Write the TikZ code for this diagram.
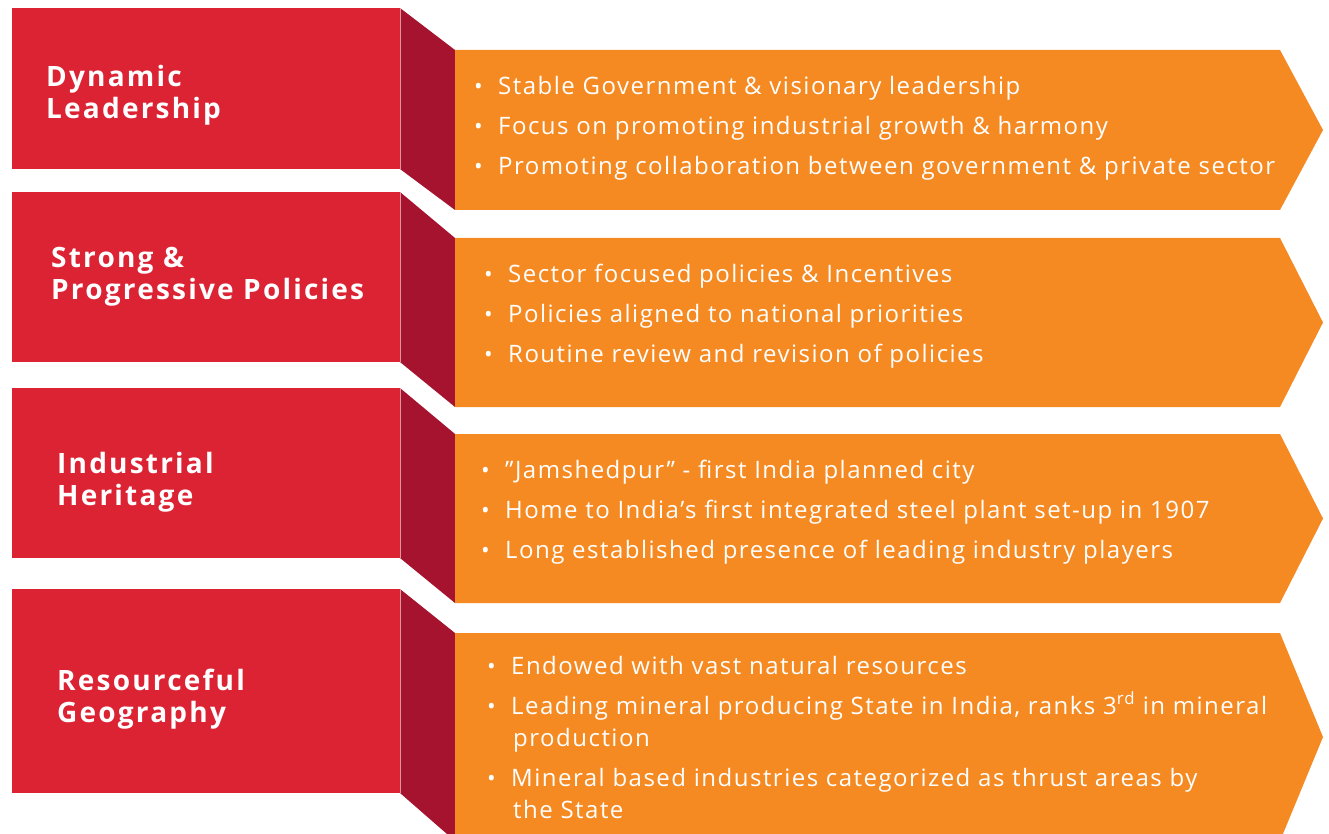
\documentclass[tikz,border=0pt]{standalone}
\usepackage{fontspec}
\setmainfont{Open Sans}
\newfontfamily\titlefont[LetterSpace=7.9]{Open Sans}
\newfontfamily\bodyfont[LetterSpace=6.2]{Open Sans}
\definecolor{redbox}{RGB}{220,35,52}
\definecolor{foldred}{RGB}{166,19,46}
\definecolor{orangebox}{RGB}{245,138,34}
\definecolor{seam}{RGB}{226,150,160}
\tikzset{
  titletext/.style={anchor=base west,inner sep=0pt,text=white,font=\titlefont\fontsize{28}{31}\selectfont\bfseries},
  bullettext/.style={anchor=base west,inner sep=0pt,text=white,font=\bodyfont\fontsize{24}{32}\selectfont},
  dot/.style={anchor=base west,inner sep=0pt,text=white,font=\fontsize{23}{32}\selectfont},
}
\newcommand{\rowshapes}[6]{% #1 redtop #2 redbottom #3 orangetop #4 orangebottom #5 tip #6 name
  \fill[redbox] (12,#1) rectangle (400,#2);
  \fill[foldred] (400,#1) -- (455,#3) -- (455,#4) -- (400,#2) -- cycle;
  \draw[seam,line width=0.8pt] (400,#1) -- (400,#2);
  \fill[orangebox] (455,#3) -- (1280,#3) -- (1323,#5) -- (1280,#4) -- (455,#4) -- cycle;
  \coordinate (#6) at (455,#3);
}
\begin{document}
\begin{tikzpicture}[x=1pt,y=-1pt]
\useasboundingbox (0,0) rectangle (1329,834);
\clip (0,0) rectangle (1329,834);
\rowshapes{8}{169}{50}{210}{130}{r1}
\rowshapes{192}{362}{238}{407}{322.5}{r2}
\rowshapes{388}{558}{434}{603}{518.5}{r3}
\rowshapes{589}{793}{633}{841}{737}{r4}

% titles
\node[titletext] (t1a) at (46,87) {Dynamic};
\node[titletext] (t1b) at (46,119) {Leadership};
\node[titletext] (t2a) at (51,267) {Strong \&};
\node[titletext] (t2b) at (51,299) {Progressive Policies};
\node[titletext] (t3a) at (57,473) {Industrial};
\node[titletext] (t3b) at (57,505) {Heritage};
\node[titletext] (t4a) at (57,690) {Resourceful};
\node[titletext] (t4b) at (57,722) {Geography};

% row 1 bullets
\node[dot] (d11) at (474,95) {•};
\node[bullettext] (b11) at (498,95) {Stable Government \& visionary leadership};
\node[dot] (d12) at (474,135) {•};
\node[bullettext] (b12) at (498,135) {Focus on promoting industrial growth \& harmony};
\node[dot] (d13) at (474,175) {•};
\node[bullettext] (b13) at (498,175) {Promoting collaboration between government \& private sector};

% row 2 bullets
\node[dot] (d21) at (484,282) {•};
\node[bullettext] (b21) at (508,282) {Sector focused policies \& Incentives};
\node[dot] (d22) at (484,322) {•};
\node[bullettext] (b22) at (508,322) {Policies aligned to national priorities};
\node[dot] (d23) at (484,362) {•};
\node[bullettext] (b23) at (508,362) {Routine review and revision of policies};

% row 3 bullets
\node[dot] (d31) at (481,478) {•};
\node[bullettext] (b31) at (505,478) {”Jamshedpur” - first India planned city};
\node[dot] (d32) at (481,518) {•};
\node[bullettext] (b32) at (505,518) {Home to India’s first integrated steel plant set-up in 1907};
\node[dot] (d33) at (481,558) {•};
\node[bullettext] (b33) at (505,558) {Long established presence of leading industry players};

% row 4 bullets
\node[dot] (d41) at (487,674) {•};
\node[bullettext] (b41) at (511,674) {Endowed with vast natural resources};
\node[dot] (d42) at (487,714) {•};
\node[bullettext] (b42) at (511,714) {Leading mineral producing State in India, ranks 3\textsuperscript{rd} in mineral};
\node[bullettext] (b42b) at (513,746) {production};
\node[dot] (d43) at (487,786) {•};
\node[bullettext] (b43) at (511,786) {Mineral based industries categorized as thrust areas by};
\node[bullettext] (b43b) at (513,818) {the State};
\end{tikzpicture}
\end{document}
